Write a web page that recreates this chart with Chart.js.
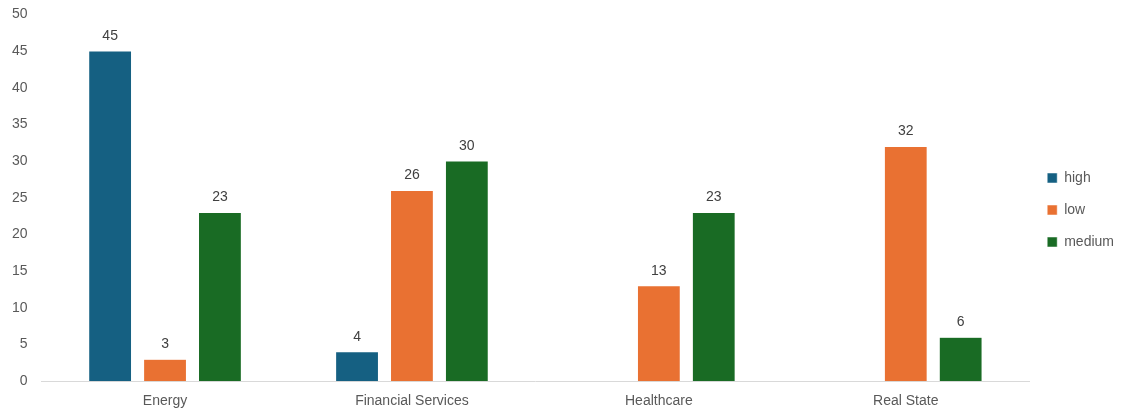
<!DOCTYPE html>
<html>
<head>
<meta charset="utf-8">
<script src="https://cdn.jsdelivr.net/npm/chart.js@4/dist/chart.umd.min.js"></script>
<style>
  html, body { margin: 0; padding: 0; background: #fff; }
  #wrap { width: 1130px; height: 414px; }
</style>
</head>
<body>
<div id="wrap"><canvas id="chart" width="1130" height="414"></canvas></div>
<script>
const categories = ["Energy", "Financial Services", "Healthcare", "Real State"];
const highValues = [45, 4, null, null];
const lowValues = [3, 26, 13, 32];
const mediumValues = [23, 30, 23, 6];
const yTicks = [0, 5, 10, 15, 20, 25, 30, 35, 40, 45, 50];

const textColor = "#595959";
const fontFamily = "'Liberation Sans', 'Open Sans', sans-serif";

// draw the value above each bar
const valueLabels = {
  id: "valueLabels",
  afterDatasetsDraw(chart) {
    const ctx = chart.ctx;
    ctx.save();
    ctx.font = "14px " + fontFamily;
    ctx.fillStyle = "#404040";
    ctx.textAlign = "center";
    ctx.textBaseline = "bottom";
    chart.data.datasets.forEach((ds, i) => {
      const meta = chart.getDatasetMeta(i);
      meta.data.forEach((bar, j) => {
        const v = ds.data[j];
        if (v === null || v === undefined) return;
        ctx.fillText(String(v), bar.x, bar.y - 8);
      });
    });
    ctx.restore();
  }
};

new Chart(document.getElementById("chart").getContext("2d"), {
  type: "bar",
  data: {
    labels: categories,
    datasets: [
      { label: "high", data: highValues, backgroundColor: "#156082", borderColor: "#ffffff", borderWidth: 0.5 },
      { label: "low", data: lowValues, backgroundColor: "#E97132", borderColor: "#ffffff", borderWidth: 0.5 },
      { label: "medium", data: mediumValues, backgroundColor: "#196B24", borderColor: "#ffffff", borderWidth: 0.5 }
    ]
  },
  options: {
    responsive: false,
    animation: false,
    categoryPercentage: 0.667,
    barPercentage: 0.78,
    layout: { padding: { top: 6, right: 6, bottom: 0, left: 6 } },
    scales: {
      x: {
        grid: { display: false },
        border: { color: "#d9d9d9", width: 1 },
        ticks: { color: textColor, font: { size: 14, family: fontFamily }, padding: 4 }
      },
      y: {
        min: 0,
        max: 50,
        afterBuildTicks(axis) { axis.ticks = yTicks.map(v => ({ value: v })); },
        grid: { display: false },
        border: { display: false },
        ticks: { color: textColor, font: { size: 14, family: fontFamily }, padding: 6 }
      }
    },
    plugins: {
      legend: {
        position: "right",
        labels: {
          boxWidth: 10,
          boxHeight: 10,
          padding: 18,
          color: textColor,
          font: { size: 14, family: fontFamily }
        }
      },
      tooltip: { enabled: false }
    }
  },
  plugins: [valueLabels]
});
</script>
</body>
</html>
